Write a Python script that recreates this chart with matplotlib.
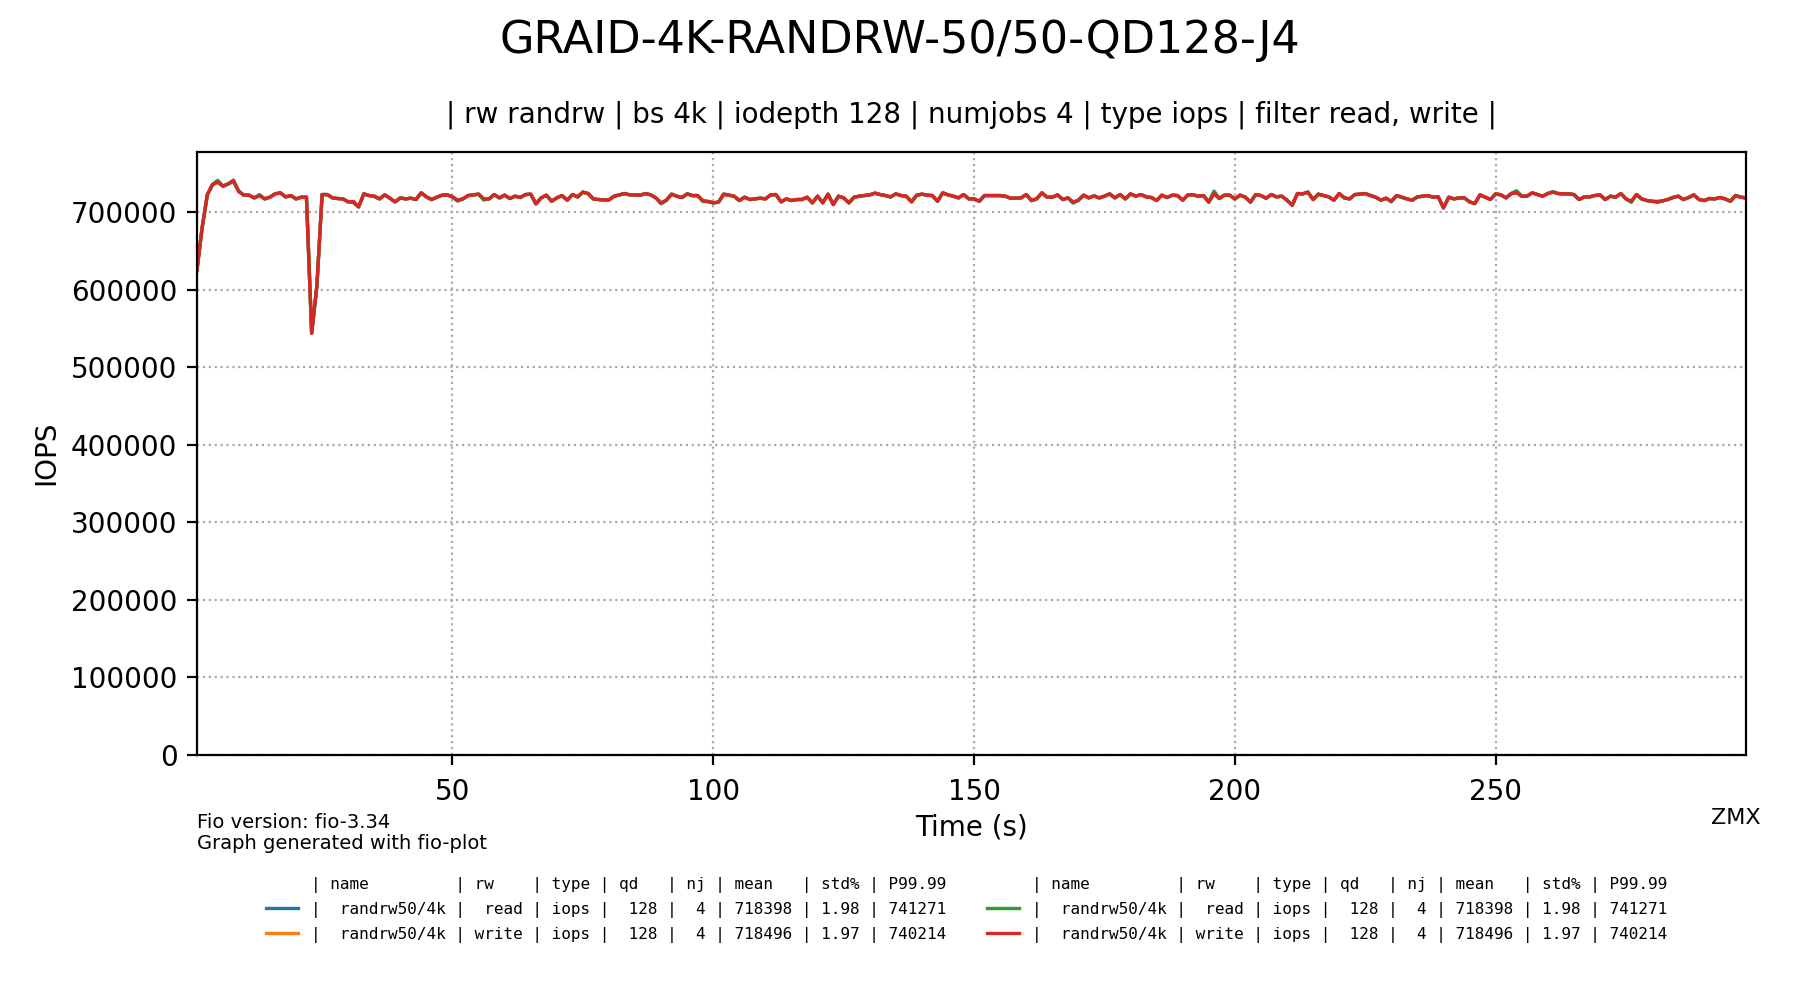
import matplotlib
matplotlib.use("Agg")
import matplotlib.pyplot as plt
from matplotlib.lines import Line2D

# ---- data ----
time_s = list(range(1, 299))

write_iops = [
    625000, 680000, 722800, 735800, 738800, 733600, 736600, 740000, 727000, 722000,
    722000, 718500, 721500, 717200, 719400, 723700, 725000, 719800, 721500, 717200,
    719400, 719400, 544000, 605000, 722800, 722800, 718500, 717700, 717200, 713400,
    713800, 706900, 723700, 721500, 720700, 717200, 722400, 718100, 713400, 718500,
    717200, 718100, 716400, 725000, 719800, 716400, 719400, 722000, 722400, 719800,
    715500, 717200, 721500, 722400, 723300, 717200, 717200, 722800, 718500, 722000,
    717700, 720700, 719000, 722800, 723300, 710800, 718500, 722000, 714200, 718500,
    721500, 715500, 722800, 719800, 725900, 724100, 717200, 716400, 716000, 716000,
    720700, 722400, 724100, 722400, 722400, 722000, 724100, 722400, 718500, 712100,
    715500, 723300, 720700, 719000, 723700, 721500, 721500, 715100, 713800, 712100,
    713000, 723300, 722000, 720700, 715100, 719400, 716400, 717200, 718100, 717200,
    722400, 722800, 713400, 717200, 715100, 716400, 716400, 719400, 712100, 720700,
    712100, 723300, 709900, 720700, 718500, 712100, 719400, 720700, 721500, 722400,
    724600, 722800, 721500, 719800, 723700, 721500, 720700, 713400, 722000, 723300,
    722000, 721500, 714200, 725000, 722400, 720700, 718500, 722800, 717200, 717200,
    714200, 721500, 721500, 721500, 721500, 720700, 718100, 718100, 718500, 722800,
    715500, 717200, 725000, 719400, 719400, 722400, 716400, 718500, 713000, 715500,
    722000, 718500, 721100, 718500, 720700, 723700, 718500, 722800, 717200, 723700,
    720700, 722800, 719800, 719000, 715100, 722000, 719000, 722000, 721500, 715500,
    722400, 722400, 720700, 721500, 713000, 724000, 717700, 722000, 722000, 717200,
    722000, 719400, 713000, 722800, 721500, 718100, 722800, 719800, 720700, 715500,
    709100, 724100, 723700, 725900, 716400, 723300, 721500, 719800, 715500, 724100,
    718500, 717200, 722800, 723300, 724100, 721500, 719400, 715500, 718100, 714200,
    721500, 719400, 717200, 715500, 719800, 720700, 721500, 719400, 719800, 705600,
    719400, 717200, 718500, 718500, 713400, 711200, 722400, 719400, 716400, 723700,
    722400, 718500, 724100, 725000, 720700, 720700, 725000, 722800, 720700, 724100,
    725900, 724100, 723700, 723700, 722800, 716400, 719800, 719800, 721500, 722400,
    716400, 720700, 719400, 724100, 717200, 714200, 722800, 717200, 715100, 714200,
    713800, 714700, 716400, 719000, 720700, 716400, 719000, 722400, 716400, 715100,
    717700, 717200, 719000, 717200, 714200, 721500, 719400, 718500,
]

# read series follows write closely; explicit points where it differs
read_iops = list(write_iops)
read_diff = {5: 741000, 8: 741300, 13: 722500, 31: 712500, 51: 714500, 56: 716000,
             90: 711000, 98: 714000, 161: 714800, 169: 712000, 196: 727000,
             230: 713500, 254: 727500, 261: 726500, 276: 713000, 281: 712800}
for t, v in read_diff.items():
    read_iops[t - 1] = v

legend_header = "| name         | rw    | type | qd   | nj | mean   | std% | P99.99"
legend_read = "|  randrw50/4k |  read | iops |  128 |  4 | 718398 | 1.98 | 741271"
legend_write = "|  randrw50/4k | write | iops |  128 |  4 | 718496 | 1.97 | 740214"

title = "GRAID-4K-RANDRW-50/50-QD128-J4"
subtitle = "| rw randrw | bs 4k | iodepth 128 | numjobs 4 | type iops | filter read, write |"
y_ticks = [0, 100000, 200000, 300000, 400000, 500000, 600000, 700000]
x_ticks = [50, 100, 150, 200, 250]
y_top = 741271 * 1.05

# ---- figure ----
fig = plt.figure(figsize=(9, 5), dpi=200)
ax = fig.add_axes([0.1094, 0.245, 0.8606, 0.6035])

l_blue, = ax.plot(time_s, read_iops, color="tab:blue", lw=1.2)
l_orange, = ax.plot(time_s, write_iops, color="tab:orange", lw=1.2)
l_green, = ax.plot(time_s, read_iops, color="tab:green", lw=1.2)
l_red, = ax.plot(time_s, write_iops, color="tab:red", lw=1.2)

ax.set_xlim(1, 298)
ax.set_ylim(0, y_top)
ax.set_xticks(x_ticks)
ax.set_yticks(y_ticks)
ax.tick_params(labelsize=10)
ax.tick_params(axis="x", pad=4.8)
ax.grid(True, linestyle=":", color="#aaaaaa", lw=0.8)
ax.set_xlabel("Time (s)", fontsize=10, labelpad=2.6)
ax.set_ylabel("IOPS", fontsize=10)

fig.text(0.5, 0.96, title, ha="center", va="center", fontsize=16)
fig.text(0.5397, 0.885, subtitle, ha="center", va="center", fontsize=10)
fig.text(0.1094, 0.167, "Fio version: fio-3.34\nGraph generated with fio-plot",
         ha="left", va="center", fontsize=7, linespacing=1.1)
fig.text(0.978, 0.182, "ZMX", ha="right", va="center", fontsize=8)

blank = Line2D([], [], color="none")
handles = [blank, l_blue, l_orange, blank, l_green, l_red]
labels = [legend_header, legend_read, legend_write, legend_header, legend_read, legend_write]
fig.legend(handles, labels, loc="center", bbox_to_anchor=(0.537, 0.090), ncol=2,
           frameon=False, prop={"family": "DejaVu Sans Mono", "size": 5.77},
           handlelength=2.05, columnspacing=2.5, labelspacing=0.55)

fig.savefig("out.png", dpi=200)
